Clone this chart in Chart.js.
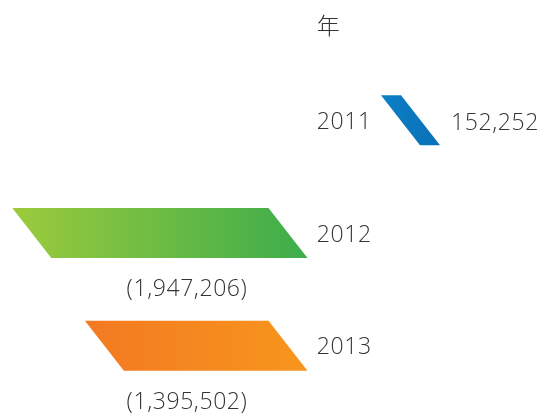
<!DOCTYPE html>
<html>
<head>
<meta charset="utf-8">
<script src="https://cdn.jsdelivr.net/npm/chart.js@4/dist/chart.umd.min.js"></script>
<style>
  html, body { margin: 0; padding: 0; background: #ffffff; }
  #wrap { width: 544px; height: 415px; position: relative; }
</style>
</head>
<body>
<div id="wrap"><canvas id="c"></canvas></div>
<script>
// ---- data ----
const years = ['2011', '2012', '2013'];
const values = [152252, -1947206, -1395502];
const valueLabels = ['152,252', '(1,947,206)', '(1,395,502)'];
const axisTitle = '年';

// ---- style ----
const barGradients = [
  ['#0c7fc5', '#0a70b7'],
  ['#9ccb3c', '#3cad4b'],
  ['#f37922', '#f7961d']
];
const TEXT_COLOR = '#333333';
const FONT = '300 23px "Open Sans", "Noto Sans", sans-serif';
const TITLE_FONT = '300 23px "Noto Sans CJK SC", sans-serif';
const LETTER_SPACING = '0.6px';
const SLANT = 39;            // horizontal shift between top and bottom edges of each bar
const VALUE_PER_PX = 7600;   // scale resolution
const W = 544;
const NEG_ZERO = 288;        // pixel of zero for negative bars
const POS_ZERO = 400.5;      // pixel of zero for positive bars

const posData = values.map(v => (v > 0 ? v : null));
const negData = values.map(v => (v < 0 ? v : null));

const parallelogramPlugin = {
  id: 'parallelograms',
  afterDatasetsDraw(chart) {
    const ctx = chart.ctx;
    const s = SLANT / 2;
    chart.data.datasets.forEach((ds, di) => {
      const meta = chart.getDatasetMeta(di);
      meta.data.forEach((bar, i) => {
        if (ds.data[i] === null || ds.data[i] === undefined) return;
        const p = bar.getProps(['x', 'y', 'base', 'height'], true);
        const left = Math.min(p.x, p.base);
        const right = Math.max(p.x, p.base);
        const top = p.y - p.height / 2;
        const bottom = p.y + p.height / 2;
        const g = ctx.createLinearGradient(left - s, 0, right + s, 0);
        g.addColorStop(0, barGradients[i][0]);
        g.addColorStop(1, barGradients[i][1]);
        ctx.save();
        ctx.fillStyle = g;
        ctx.beginPath();
        ctx.moveTo(left - s, top);
        ctx.lineTo(right - s, top);
        ctx.lineTo(right + s, bottom);
        ctx.lineTo(left + s, bottom);
        ctx.closePath();
        ctx.fill();
        ctx.restore();
      });
    });
  }
};

const labelPlugin = {
  id: 'labels',
  afterDraw(chart) {
    const ctx = chart.ctx;
    const yScale = chart.scales.y;
    const zNeg = chart.scales.xNeg.getPixelForValue(0);
    const zPos = chart.scales.xPos.getPixelForValue(0);
    const mid = (zNeg + zPos) / 2;
    const s = SLANT / 2;
    ctx.save();
    ctx.fillStyle = TEXT_COLOR;
    ctx.textBaseline = 'alphabetic';
    if ('letterSpacing' in ctx) ctx.letterSpacing = LETTER_SPACING;
    // year labels
    ctx.font = FONT;
    ctx.textAlign = 'center';
    years.forEach((yr, i) => {
      ctx.fillText(yr, mid, yScale.getPixelForValue(i) + 8.5);
    });
    // axis title
    const yearW = ctx.measureText(years[0]).width;
    ctx.font = TITLE_FONT;
    ctx.textAlign = 'left';
    ctx.fillText(axisTitle, mid - yearW / 2, yScale.getPixelForValue(0) - 86);
    // value labels
    ctx.font = FONT;
    values.forEach((v, i) => {
      const yc = yScale.getPixelForValue(i);
      if (v >= 0) {
        const xEnd = chart.scales.xPos.getPixelForValue(v);
        ctx.textAlign = 'left';
        ctx.fillText(valueLabels[i], xEnd + s + 11, yc + 9.5);
      } else {
        ctx.textAlign = 'center';
        ctx.fillText(valueLabels[i], zNeg - 101, yc + 63);
      }
    });
    ctx.restore();
  }
};

function build() {
  new Chart(document.getElementById('c'), {
    type: 'bar',
    data: {
      labels: years,
      datasets: [
        { label: 'positive', data: posData, xAxisID: 'xPos', grouped: false,
          backgroundColor: 'rgba(0,0,0,0)', borderWidth: 0, barThickness: 50 },
        { label: 'negative', data: negData, xAxisID: 'xNeg', grouped: false,
          backgroundColor: 'rgba(0,0,0,0)', borderWidth: 0, barThickness: 50 }
      ]
    },
    options: {
      indexAxis: 'y',
      responsive: true,
      maintainAspectRatio: false,
      animation: false,
      layout: { padding: { top: 64, bottom: 13, left: 0, right: 0 } },
      plugins: { legend: { display: false }, tooltip: { enabled: false } },
      scales: {
        y: { type: 'category', display: false, offset: true },
        xNeg: { type: 'linear', axis: 'x', display: false,
                min: -NEG_ZERO * VALUE_PER_PX, max: (W - NEG_ZERO) * VALUE_PER_PX },
        xPos: { type: 'linear', axis: 'x', display: false,
                min: -POS_ZERO * VALUE_PER_PX, max: (W - POS_ZERO) * VALUE_PER_PX }
      }
    },
    plugins: [parallelogramPlugin, labelPlugin]
  });
}

if (document.fonts && document.fonts.load) {
  Promise.all([
    document.fonts.load('300 23px "Open Sans"'),
    document.fonts.load('300 23px "Noto Sans CJK SC"')
  ]).then(build, build);
} else {
  build();
}
</script>
</body>
</html>
